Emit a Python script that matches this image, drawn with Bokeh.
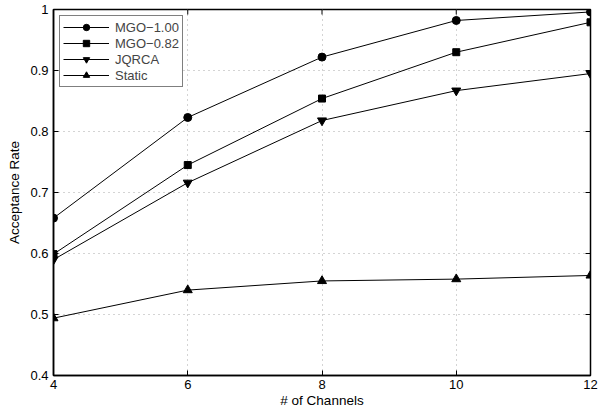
import math
from bokeh.plotting import figure
from bokeh.models import (Legend, LegendItem, FixedTicker,
                          CustomJSTickFormatter, Range1d)
from bokeh.embed import file_html
from bokeh.resources import INLINE

channels = [4, 6, 8, 10, 12]
mgo_100 = [0.658, 0.823, 0.922, 0.982, 0.996]
mgo_082 = [0.599, 0.745, 0.854, 0.930, 0.979]
jqrca = [0.590, 0.716, 0.818, 0.867, 0.895]
static = [0.494, 0.540, 0.555, 0.558, 0.564]

x_ticks = [4, 6, 8, 10, 12]
y_ticks = [0.4, 0.5, 0.6, 0.7, 0.8, 0.9, 1.0]
x_lo, x_hi = 4, 12
y_lo, y_hi = 0.4, 1.0

FONT = "Liberation Sans"
TICK_FS = "13px"
LABEL_FS = "13.5px"
LEGEND_FS = "13px"

p = figure(width=598, height=417, output_backend="svg", toolbar_location=None,
           x_range=Range1d(x_lo, x_hi), y_range=Range1d(y_lo, y_hi),
           min_border_left=53, min_border_right=8, min_border_top=9,
           min_border_bottom=42)
p.outline_line_color = "black"
p.outline_line_width = 1.5
p.background_fill_color = "white"
p.border_fill_color = "white"

fmt = CustomJSTickFormatter(code="var s = tick.toFixed(1); return s.endsWith('.0') ? s.slice(0, -2) : s;")

for ax in [p.xaxis[0], p.yaxis[0]]:
    ax.axis_line_color = "black"
    ax.axis_line_width = 1.5
    ax.major_tick_in = 5
    ax.major_tick_out = 0
    ax.minor_tick_line_color = None
    ax.major_tick_line_color = "black"
    ax.major_label_text_font = FONT
    ax.major_label_text_font_size = TICK_FS
    ax.major_label_text_color = "black"
    ax.axis_label_text_font = FONT
    ax.axis_label_text_font_size = LABEL_FS
    ax.axis_label_text_font_style = "normal"
    ax.axis_label_text_color = "black"

p.xaxis[0].ticker = FixedTicker(ticks=x_ticks)
p.yaxis[0].ticker = FixedTicker(ticks=y_ticks)
p.yaxis[0].formatter = fmt
p.xaxis[0].axis_label = "# of Channels"
p.yaxis[0].axis_label = "Acceptance Rate"
p.xaxis[0].major_label_standoff = 4
p.xaxis[0].axis_label_standoff = 1
p.yaxis[0].major_label_standoff = 5
p.yaxis[0].axis_label_standoff = 5

p.xgrid.ticker = FixedTicker(ticks=x_ticks)
p.ygrid.ticker = FixedTicker(ticks=y_ticks)
for g in [p.xgrid[0], p.ygrid[0]]:
    g.grid_line_color = "#a8a8a8"
    g.grid_line_dash = "1 4"
    g.grid_line_width = 1

# inward ticks on the top and right edges of the box (clipped to the frame)
p.scatter(x_ticks, [y_hi] * len(x_ticks), marker="dash", size=10, angle=math.pi / 2,
          line_color="black", line_width=1)
p.scatter([x_hi] * len(y_ticks), y_ticks, marker="dash", size=10,
          line_color="black", line_width=1)

series = [
    ("MGO\u22121.00", mgo_100, "circle", 8),
    ("MGO\u22120.82", mgo_082, "square", 7),
    ("JQRCA", jqrca, "inverted_triangle", 9),
    ("Static", static, "triangle", 9),
]
items = []
for name, ys, marker, size in series:
    ln = p.line(channels, ys, line_color="black", line_width=1)
    sc = p.scatter(channels, ys, marker=marker, size=size, fill_color="black",
                   line_color="black")
    items.append(LegendItem(label=name, renderers=[ln, sc]))

legend = Legend(items=items, location="top_left", margin=6,
                label_text_font=FONT, label_text_font_size=LEGEND_FS,
                glyph_width=46, glyph_height=16, label_height=16,
                spacing=0, padding=3, label_standoff=6,
                border_line_color="black", border_line_width=1.2,
                background_fill_alpha=1.0)
p.add_layout(legend, "center")

open("out.html", "w").write(file_html(p, INLINE))
